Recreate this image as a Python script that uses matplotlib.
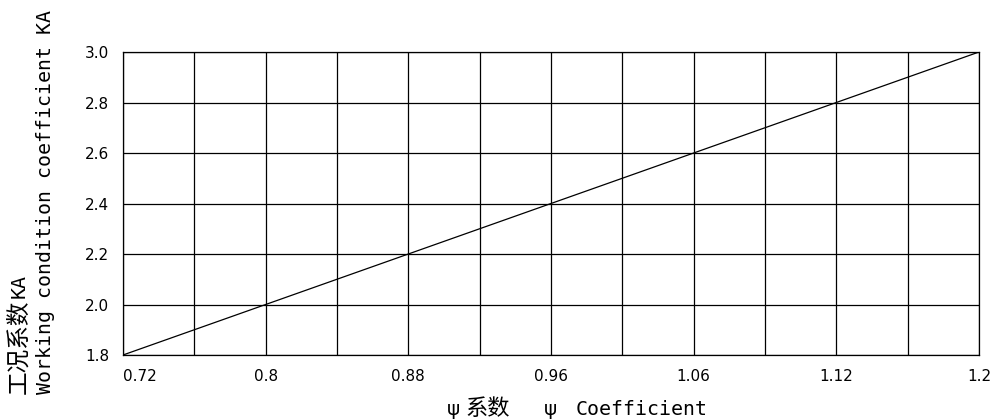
import matplotlib
matplotlib.use("Agg")
import matplotlib.pyplot as plt

# Data
psi_labels = ['0.72', '', '0.8', '', '0.88', '', '0.96', '', '1.06', '', '1.12', '', '1.2']
ka_values = [1.8, 1.9, 2.0, 2.1, 2.2, 2.3, 2.4, 2.5, 2.6, 2.7, 2.8, 2.9, 3.0]
y_ticks = [1.8, 2.0, 2.2, 2.4, 2.6, 2.8, 3.0]
y_tick_labels = ['1.8', '2.0', '2.2', '2.4', '2.6', '2.8', '3.0']

W, H = 990, 419
fig = plt.figure(figsize=(W / 100, H / 100), dpi=100)
ax = fig.add_axes([123 / W, 1 - 355 / H, 856 / W, 303 / H])

pos = list(range(len(psi_labels)))
ax.plot(pos, ka_values, color='black', lw=0.9)

ax.set_xlim(pos[0], pos[-1])
ax.set_ylim(y_ticks[0], y_ticks[-1])
ax.set_xticks(pos)
ax.set_xticklabels(psi_labels, fontsize=11, family='DejaVu Sans')
ax.set_yticks(y_ticks)
ax.set_yticklabels(y_tick_labels, fontsize=11, family='DejaVu Sans')
ax.tick_params(length=0, pad=10)
ax.get_xticklabels()[0].set_horizontalalignment('left')
ax.grid(True, color='black', lw=0.9)
for s in ax.spines.values():
    s.set_linewidth(0.9)
    s.set_color('black')

def px(x, y):
    return x / W, 1 - y / H

CJK = ['Noto Sans CJK SC', 'DejaVu Sans']

# Y-axis label (two lines)
fig.text(*px(19, 394), '工况系数', rotation=90, ha='center', va='bottom',
         fontsize=17, family=CJK)
fig.text(*px(19, 298), 'KA', rotation=90, ha='center', va='bottom',
         fontsize=14.3, family='DejaVu Sans Mono')
fig.text(*px(46, 394), 'Working condition coefficient KA', rotation=90,
         ha='center', va='bottom', fontsize=14.3, family='DejaVu Sans Mono')

# X-axis label
fig.text(*px(453, 409), 'ψ', ha='center', va='center', fontsize=14.3,
         family='DejaVu Sans')
fig.text(*px(465, 408), '系数', ha='left', va='center', fontsize=16,
         family=CJK)
fig.text(*px(550, 409), 'ψ', ha='center', va='center', fontsize=14.3,
         family='DejaVu Sans')
fig.text(*px(576, 409), 'Coefficient', ha='left', va='center', fontsize=14.3,
         family='DejaVu Sans Mono')

fig.savefig('out.png', dpi=100)
